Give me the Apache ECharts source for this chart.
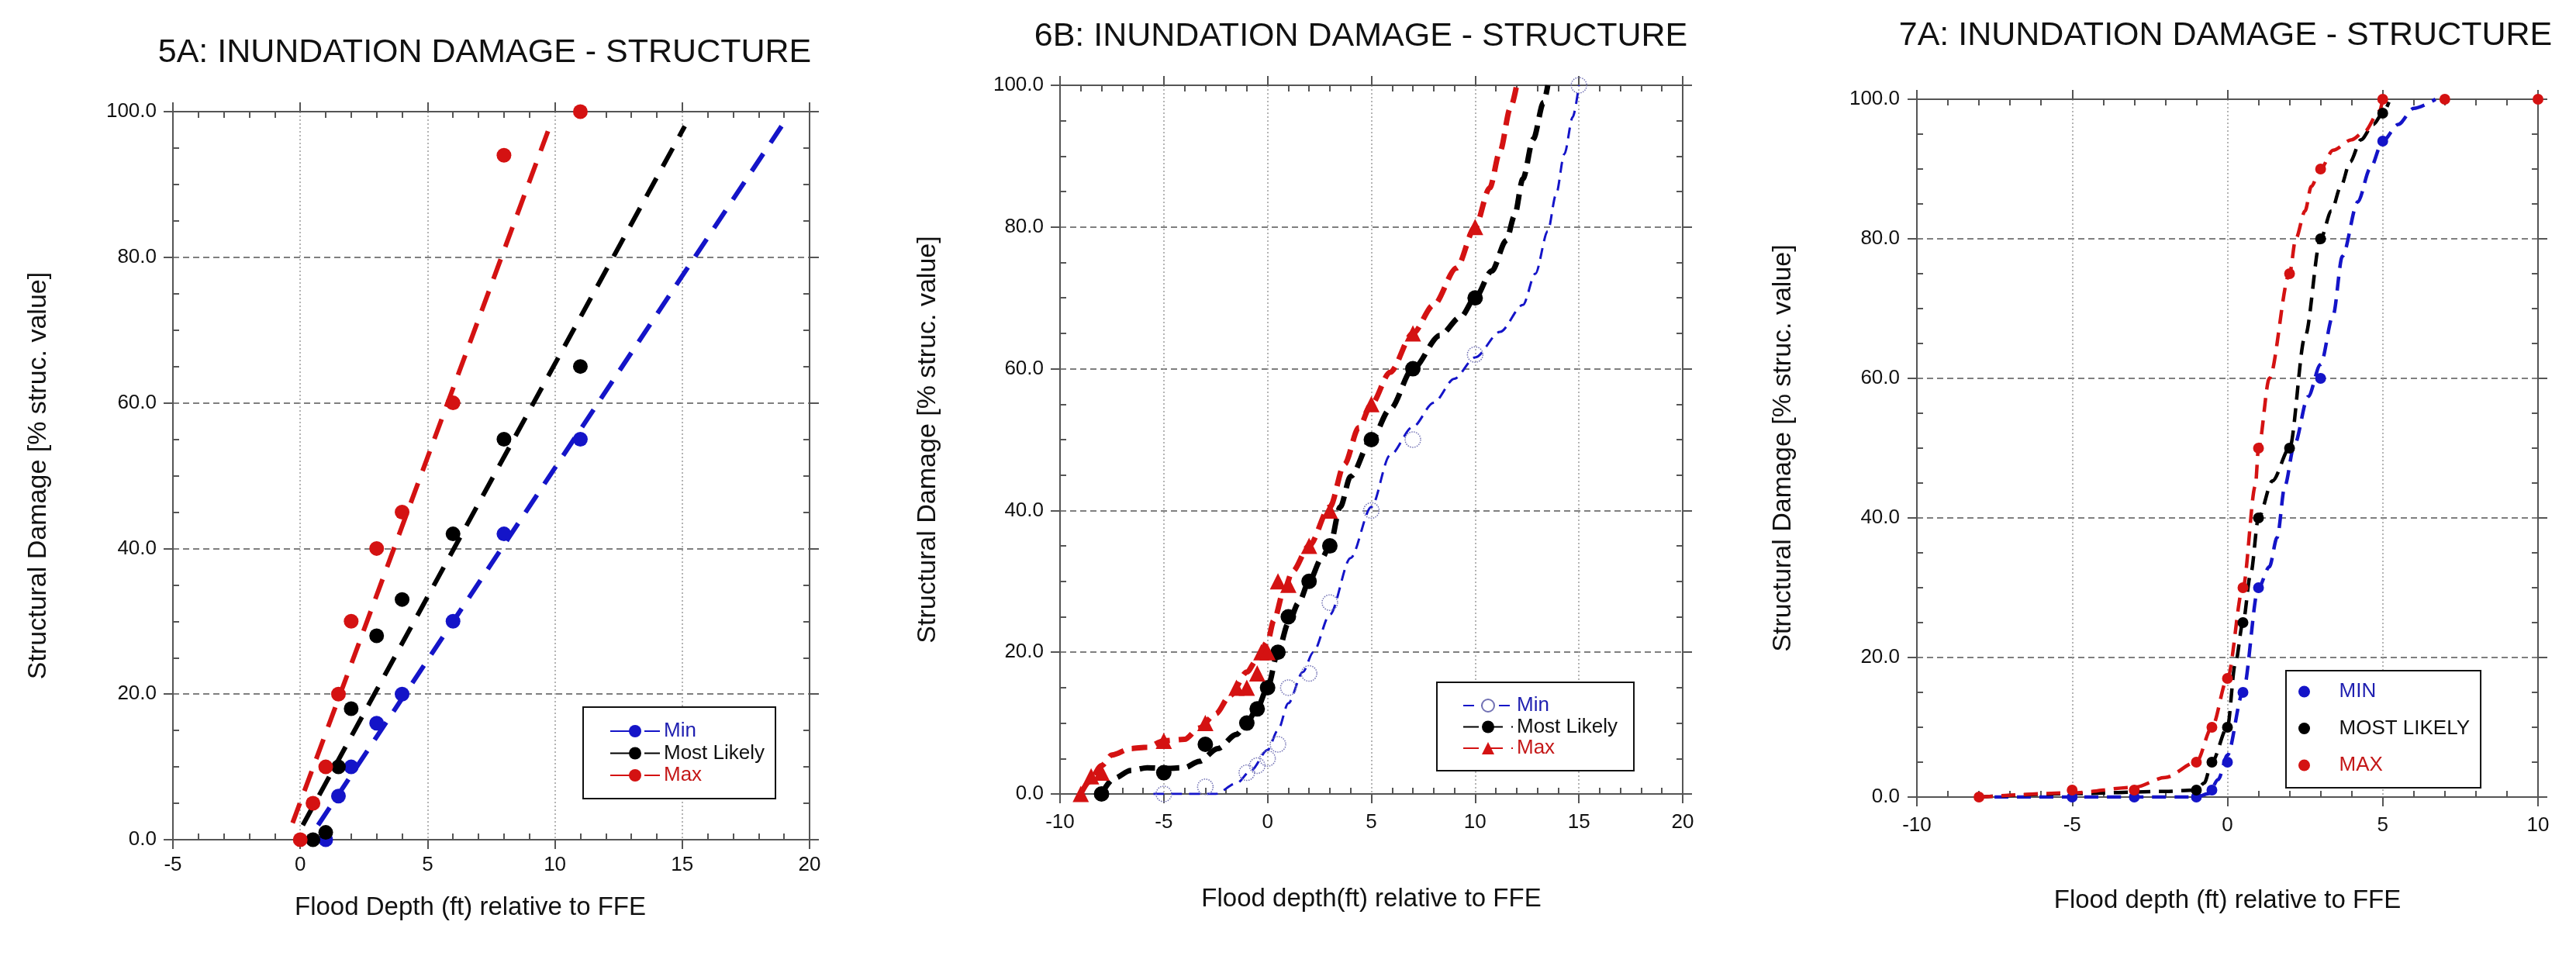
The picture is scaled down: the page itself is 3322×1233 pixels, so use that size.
<!DOCTYPE html>
<html>
<head>
<meta charset="utf-8">
<title>Inundation damage - structure</title>
<script src="https://cdn.jsdelivr.net/npm/echarts@6/dist/echarts.min.js"></script>
<style>
  html, body { margin: 0; padding: 0; background: #fff; }
  #chart { width: 3322px; height: 1233px; }
</style>
</head>
<body>
<div id="chart"></div>
<script>
// ---- data: [flood depth ft, damage %] ----

// 5A: scatter points and straight dashed fits
var p5MinPts = [[1, 0], [1.5, 6], [2, 10], [3, 16], [4, 20], [6, 30], [8, 42], [11, 55]];
var p5MlPts  = [[0.5, 0], [1, 1], [1.5, 10], [2, 18], [3, 28], [4, 33], [6, 42], [8, 55], [11, 65]];
var p5MaxPts = [[0, 0], [0.5, 5], [1, 10], [1.5, 20], [2, 30], [3, 40], [4, 45], [6, 60], [8, 94], [11, 100]];
var p5MinFit = [[0.7, 2], [18.9, 98]];
var p5MlFit  = [[0.1, 2], [15.1, 98]];
var p5MaxFit = [[-0.3, 2.3], [9.8, 98]];

// 6B: points and smoothed curves
var p6MinPts = [[-5, 0], [-3, 1], [-1, 3], [-0.5, 4], [0, 5], [0.5, 7], [1, 15], [2, 17], [3, 27], [5, 40], [7, 50], [10, 62], [15, 100]];
var p6MlPts  = [[-8, 0], [-5, 3], [-3, 7], [-1, 10], [-0.5, 12], [0, 15], [0.5, 20], [1, 25], [2, 30], [3, 35], [5, 50], [7, 60], [10, 70]];
var p6MaxPts = [[-9, 0], [-8.5, 2.5], [-8, 3], [-5, 7.5], [-3, 10], [-1.5, 15], [-1, 15], [-0.5, 17], [-0.3, 20], [0, 20],
                [0.5, 30], [1, 29.5], [2, 35], [3, 40], [5, 55], [7, 65], [10, 80]];
var p6MinCurve = [[-5.5, 0], [-2.5, 0], [-1.5, 1.5], [-0.8, 3.3], [0, 6.2], [0.5, 9], [1, 12.8], [1.7, 17.2], [2.2, 20], [3, 25.3],
                  [4, 33.3], [5, 40.5], [5.9, 47.8], [7, 51.8], [8, 55.2], [9, 58.6], [10, 61.6], [11.2, 65.2], [12.3, 69],
                  [12.9, 73.4], [13.5, 79.4], [13.9, 84.6], [14.3, 90.3], [14.7, 95.5], [15, 100]];
var p6MlCurve  = [[-8, 0], [-7.4, 2.2], [-6.6, 3.3], [-5.8, 3.7], [-5, 3.6], [-4, 3.7], [-3.3, 4.6], [-2.4, 6.4], [-1.5, 8.4],
                  [-1, 10], [-0.5, 12.1], [0, 15], [0.5, 20], [1, 24.1], [1.5, 27], [2, 30], [2.6, 33.2], [3, 35], [3.5, 40.5],
                  [4, 44.8], [5, 50], [5.9, 54.3], [7, 60], [8.3, 64.7], [9.3, 67.3], [10, 70], [10.8, 73.8], [11.5, 78.1],
                  [11.9, 81.6], [12.3, 86.8], [12.8, 92.4], [13.3, 97.6], [13.5, 100]];
var p6MaxCurve = [[-9, 0], [-8.6, 1.7], [-8, 4], [-7.5, 5.5], [-6.6, 6.4], [-5.8, 6.6], [-5, 7.5], [-4, 7.7], [-3.3, 9.3],
                  [-2.5, 11.3], [-1.8, 13.9], [-1, 17.2], [-0.5, 19], [0, 21.5], [0.3, 24.5], [0.8, 28.8], [1.2, 31.4], [2, 35],
                  [3, 40.5], [3.7, 46.5], [4.4, 51.7], [5, 55], [5.9, 59.5], [7, 65], [8, 69], [9.1, 74.2], [10, 80],
                  [10.7, 85.5], [11.2, 90.7], [11.7, 96.8], [12, 100]];

// 7A: points and smoothed curves
var p7MinPts = [[-5, 0], [-3, 0], [-1, 0], [-0.5, 1], [0, 5], [0.5, 15], [1, 30], [3, 60], [5, 94]];
var p7MlPts  = [[-1, 1], [-0.5, 5], [0, 10], [0.5, 25], [1, 40], [2, 50], [3, 80], [5, 98]];
var p7MaxPts = [[-8, 0], [-5, 1], [-3, 1], [-1, 5], [-0.5, 10], [0, 17], [0.5, 30], [1, 50], [2, 75], [3, 90], [5, 100], [7, 100], [10, 100]];
var p7MinCurve = [[-7.5, 0], [-1, 0], [-0.6, 0.5], [-0.3, 2.5], [0, 6], [0.5, 15], [1, 30], [1.35, 33], [1.6, 37.2], [1.85, 44.6],
                  [2.15, 50.4], [2.6, 57.4], [3, 62], [3.4, 69], [3.7, 77.5], [4.2, 85.3], [4.6, 90.1], [5, 94], [5.5, 96.4],
                  [6, 98.7], [6.7, 100]];
var p7MlCurve  = [[-8, 0], [-5, 0.5], [-2, 0.8], [-1, 1], [-0.75, 2], [-0.5, 5], [0, 10], [0.25, 19], [0.5, 25], [0.75, 32],
                  [1, 40], [1.45, 45.3], [2, 50], [2.5, 66], [3, 80], [3.35, 84], [3.65, 87.5], [3.95, 91], [4.3, 94.2],
                  [4.7, 96.4], [5, 98], [5.2, 99.6]];
var p7MaxCurve = [[-8, 0], [-5, 0.6], [-3, 1.4], [-2, 2.8], [-1, 5], [-0.5, 10], [0, 17], [0.5, 30], [0.9, 44.6], [1, 50],
                  [1.35, 60], [2, 75], [2.2, 80], [2.5, 84], [2.7, 87.5], [3, 90], [3.4, 92.7], [4, 94.2], [4.4, 95.3],
                  [4.9, 98.3], [5, 100]];

var titles = ['5A: INUNDATION DAMAGE - STRUCTURE', '6B: INUNDATION DAMAGE - STRUCTURE', '7A: INUNDATION DAMAGE - STRUCTURE'];
var xNames = ['Flood Depth (ft) relative to FFE', 'Flood depth(ft) relative to FFE', 'Flood depth (ft) relative to FFE'];
var yName = 'Structural Damage [% struc. value]';

var FONT = 'Liberation Sans, Arial, Helvetica, sans-serif';
var BLUE = '#1414c8', RED = '#d41212', BLACK = '#000000';
var AXIS = '#555555';

var chart = echarts.init(document.getElementById('chart'));

// each grid gets 4 x and 4 y axes: labelled/major-out, minor-in, opposite major-out, opposite minor-in
function axesFor(gi, dim, min, max, interval, minorSplit, cfg) {
    var isX = dim === 'x';
    var near = isX ? 'bottom' : 'left', far = isX ? 'top' : 'right';
    var tickStyle = { color: AXIS, width: 2 };
    function base(pos) {
        return { gridIndex: gi, type: 'value', min: min, max: max, interval: interval, position: pos,
                 axisLine: { onZero: false, lineStyle: { color: AXIS, width: 2 } },
                 axisLabel: { show: false }, splitLine: { show: false } };
    }
    var main = base(near);
    main.axisTick = { length: 12, lineStyle: tickStyle };
    main.axisLabel = { show: true, fontSize: 26, color: '#111', margin: cfg.labelMargin,
                       formatter: isX ? null : function (v) { return v.toFixed(1); } };
    main.splitLine = { show: true, lineStyle: isX ? { color: '#9c9c9c', width: 1.5, type: [2, 3] }
                                                  : { color: '#555', width: 1.5, type: [8, 5] } };
    main.name = cfg.name;
    main.nameLocation = 'middle';
    main.nameGap = cfg.nameGap;
    main.nameTextStyle = { fontSize: isX ? 33 : 34, color: '#111', padding: cfg.namePad || 0 };
    var far1 = base(far);
    far1.axisTick = { length: 12, lineStyle: tickStyle };
    function minor(pos) {
        var a = base(pos);
        a.axisLine = { show: false, onZero: false };
        a.axisTick = { show: false, inside: true };
        a.minorTick = { show: true, splitNumber: minorSplit, length: 8, lineStyle: tickStyle };
        return a;
    }
    return [main, minor(near), far1, minor(far)];
}

var grids = [
    { left: 223, top: 144, width: 821, height: 939 },
    { left: 1367, top: 110, width: 803, height: 914 },
    { left: 2472, top: 128, width: 801, height: 900 }
];

var xAxis = [].concat(
    axesFor(0, 'x', -5, 20, 5, 5, { name: xNames[0], nameGap: 71, labelMargin: 20, namePad: [0, 54, 0, 0] }),
    axesFor(1, 'x', -10, 20, 5, 5, { name: xNames[1], nameGap: 119, labelMargin: 24 }),
    axesFor(2, 'x', -10, 10, 5, 5, { name: xNames[2], nameGap: 117, labelMargin: 24 })
);
var yAxis = [].concat(
    axesFor(0, 'y', 0, 100, 20, 4, { name: yName, nameGap: 156, labelMargin: 21 }),
    axesFor(1, 'y', 0, 100, 20, 4, { name: yName, nameGap: 153, labelMargin: 21 }),
    axesFor(2, 'y', 0, 100, 20, 4, { name: yName, nameGap: 155, labelMargin: 22 })
);

function curve(name, gi, data, color, width, dash, symbol, smooth, itemStyle) {
    return { name: name, type: 'line', xAxisIndex: gi * 4, yAxisIndex: gi * 4, data: data,
             showSymbol: false, symbol: symbol, symbolSize: 16, smooth: smooth, smoothMonotone: 'x',
             lineStyle: { color: color, width: width, type: dash },
             itemStyle: itemStyle || { color: color }, silent: true, z: 2 };
}
function dots(name, gi, data, symbol, size, itemStyle) {
    itemStyle.opacity = 1;
    return { name: name, type: 'scatter', xAxisIndex: gi * 4, yAxisIndex: gi * 4, data: data,
             symbol: symbol, symbolSize: size, itemStyle: itemStyle, silent: true, z: 3 };
}

var openBlue = { color: 'rgba(255,255,255,0)', borderColor: '#7272b4', borderWidth: 1.5, borderType: 'dotted' };

var series = [
    curve('5A|Min', 0, p5MinFit, BLUE, 6, [27, 17], 'circle', false),
    curve('5A|Most Likely', 0, p5MlFit, BLACK, 6, [27, 17], 'circle', false),
    curve('5A|Max', 0, p5MaxFit, RED, 6, [27, 17], 'circle', false),
    dots('5A min pts', 0, p5MinPts, 'circle', 19, { color: BLUE }),
    dots('5A ml pts', 0, p5MlPts, 'circle', 19, { color: BLACK }),
    dots('5A max pts', 0, p5MaxPts, 'circle', 19, { color: RED }),

    curve('6B|Min', 1, p6MinCurve, BLUE, 3, [14, 9], 'emptyCircle', 0.3, { color: '#7272b4' }),
    curve('6B|Most Likely', 1, p6MlCurve, BLACK, 7, [20, 11], 'circle', 0.3),
    curve('6B|Max', 1, p6MaxCurve, RED, 7, [20, 11], 'triangle', 0.3),
    dots('6B min pts', 1, p6MinPts, 'circle', 20, openBlue),
    dots('6B ml pts', 1, p6MlPts, 'circle', 20, { color: BLACK }),
    dots('6B max pts', 1, p6MaxPts, 'triangle', 21, { color: RED }),

    curve('7A|MIN', 2, p7MinCurve, BLUE, 4.5, [18, 11], 'circle', 0.3),
    curve('7A|MOST LIKELY', 2, p7MlCurve, BLACK, 4.5, [18, 11], 'circle', 0.3),
    curve('7A|MAX', 2, p7MaxCurve, RED, 4.5, [18, 11], 'circle', 0.3),
    dots('7A min pts', 2, p7MinPts, 'circle', 14, { color: BLUE }),
    dots('7A ml pts', 2, p7MlPts, 'circle', 14, { color: BLACK }),
    dots('7A max pts', 2, p7MaxPts, 'circle', 14, { color: RED })
];

function legendItems(prefix, names) {
    var cols = ['#1f1fb0', '#111111', '#c41818'];
    return names.map(function (n, i) { return { name: prefix + '|' + n, textStyle: { color: cols[i] } }; });
}
var legendBase = { orient: 'vertical', selectedMode: false, borderColor: '#111', borderWidth: 2,
                   backgroundColor: '#fff', borderRadius: 0, textStyle: { fontSize: 26, lineHeight: 26 },
                   formatter: function (n) { return n.split('|')[1]; }, z: 10 };

var legend = [
    Object.assign({}, legendBase, { left: 752, top: 912, padding: [18, 14, 17, 34], itemWidth: 64, itemHeight: 20, itemGap: 2.5,
                                    data: legendItems('5A', ['Min', 'Most Likely', 'Max']) }),
    Object.assign({}, legendBase, { left: 1853, top: 880, padding: [17, 21, 16, 33], itemWidth: 64, itemHeight: 20, itemGap: 1.5,
                                    data: legendItems('6B', ['Min', 'Most Likely', 'Max']) }),
    Object.assign({}, legendBase, { left: 2948, top: 865, padding: [14, 14, 16, 16], itemWidth: 80, itemHeight: 15, itemGap: 21.5,
                                    icon: 'circle', data: legendItems('7A', ['MIN', 'MOST LIKELY', 'MAX']) })
];

var titleAt = [[625, 68.5], [1755, 47], [2870, 46.5]];
var graphic = titles.map(function (t, i) {
    return { type: 'text', x: titleAt[i][0], y: titleAt[i][1], silent: true,
             style: { text: t, fill: '#111', font: '43px ' + FONT, align: 'center', verticalAlign: 'middle' } };
});

var option = {
    animation: false,
    backgroundColor: '#fff',
    textStyle: { fontFamily: FONT },
    grid: grids.map(function (g) { return Object.assign({ outerBoundsMode: 'none', containLabel: false }, g); }),
    xAxis: xAxis,
    yAxis: yAxis,
    legend: legend,
    graphic: graphic,
    series: series
};
chart.setOption(option);

window.addEventListener('resize', chart.resize);
</script>
</body>
</html>
